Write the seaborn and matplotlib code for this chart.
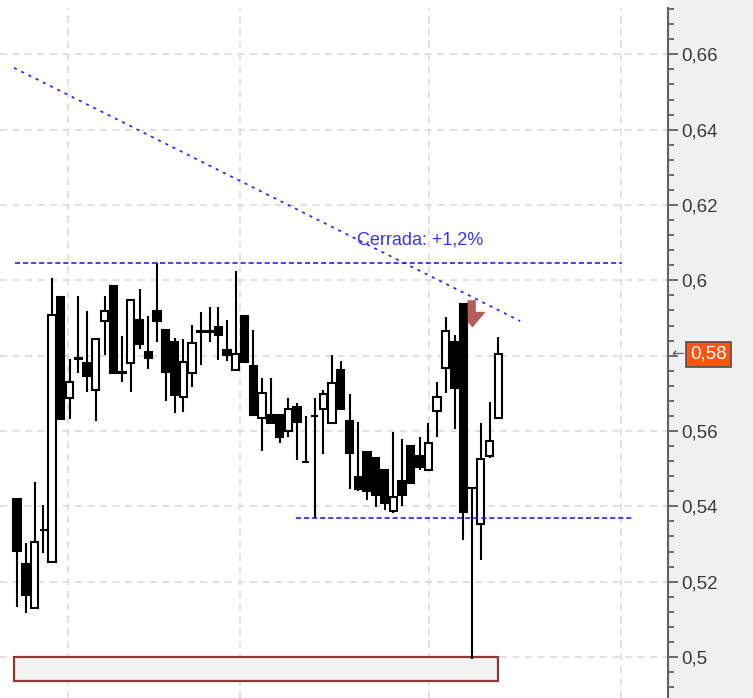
import numpy as np
import pandas as pd
import matplotlib
matplotlib.use('Agg')
import matplotlib.pyplot as plt
import matplotlib.transforms as mtransforms
from matplotlib.path import Path
from matplotlib.patches import Rectangle
from matplotlib.ticker import MultipleLocator, FuncFormatter
import seaborn as sns

# ─────────────────────────────────────────────
# Daily OHLC
# ─────────────────────────────────────────────
opens = [0.5419, 0.5247, 0.5131, 0.5337, 0.5253, 0.5957, 0.5687, 0.5795, 0.5781, 0.5709,
         0.5893, 0.5986, 0.5757, 0.5780, 0.5895, 0.5810, 0.5919, 0.5867, 0.5835, 0.5691,
         0.5753, 0.5866, 0.5866, 0.5877, 0.5814, 0.5762, 0.5905, 0.5772, 0.5634, 0.5642,
         0.5642, 0.5601, 0.5664, 0.5519, 0.5641, 0.5658, 0.5620, 0.5762, 0.5627, 0.5479,
         0.5545, 0.5527, 0.5496, 0.5388, 0.5468, 0.5560, 0.5534, 0.5496, 0.5654, 0.5766,
         0.5837, 0.5937, 0.5450, 0.5353, 0.5534, 0.5634]
highs = [0.5419, 0.5303, 0.5465, 0.5403, 0.6005, 0.5957, 0.5791, 0.5958, 0.5919, 0.5843,
         0.5958, 0.5986, 0.5852, 0.5948, 0.5977, 0.5906, 0.6045, 0.5867, 0.5847, 0.5844,
         0.5881, 0.5915, 0.5930, 0.5930, 0.5895, 0.6025, 0.5905, 0.5868, 0.5740, 0.5740,
         0.5642, 0.5687, 0.5675, 0.5640, 0.5687, 0.5709, 0.5802, 0.5787, 0.5698, 0.5624,
         0.5545, 0.5527, 0.5496, 0.5598, 0.5578, 0.5560, 0.5583, 0.5622, 0.5731, 0.5902,
         0.5855, 0.5937, 0.5450, 0.5622, 0.5678, 0.5849]
lows = [0.5133, 0.5116, 0.5131, 0.5277, 0.5253, 0.5628, 0.5631, 0.5755, 0.5703, 0.5627,
        0.5802, 0.5755, 0.5731, 0.5704, 0.5818, 0.5765, 0.5835, 0.5680, 0.5647, 0.5651,
        0.5718, 0.5775, 0.5837, 0.5788, 0.5786, 0.5762, 0.5784, 0.5642, 0.5548, 0.5620,
        0.5567, 0.5585, 0.5523, 0.5518, 0.5368, 0.5539, 0.5620, 0.5658, 0.5445, 0.5441,
        0.5417, 0.5399, 0.5390, 0.5383, 0.5401, 0.5463, 0.5496, 0.5496, 0.5585, 0.5700,
        0.5604, 0.5311, 0.4995, 0.5258, 0.5527, 0.5634]
closes = [0.5281, 0.5165, 0.5306, 0.5337, 0.5908, 0.5631, 0.5729, 0.5791, 0.5746, 0.5843,
          0.5919, 0.5755, 0.5753, 0.5948, 0.5830, 0.5795, 0.5893, 0.5756, 0.5696, 0.5784,
          0.5833, 0.5864, 0.5864, 0.5855, 0.5802, 0.5804, 0.5784, 0.5642, 0.5702, 0.5620,
          0.5585, 0.5658, 0.5625, 0.5518, 0.5640, 0.5698, 0.5728, 0.5658, 0.5542, 0.5446,
          0.5440, 0.5430, 0.5408, 0.5426, 0.5430, 0.5463, 0.5505, 0.5567, 0.5691, 0.5866,
          0.5713, 0.5386, 0.5450, 0.5525, 0.5573, 0.5804]

# drawing objects (bar index / price)
resistance_x = [-0.23, 69.1]
resistance_y = [0.6045, 0.6045]
support_x = [31.9, 70.3]
support_y = [0.5368, 0.5368]
trend_x = [-0.34, 57.5]
trend_y = [0.6564, 0.5892]
note_text = 'Cerrada: +1,2%'
note_x, note_y = 38.9, 0.6107
signal_x, signal_y = 51.97, 0.5875
box_x = [-0.34, 55.0]
box_y = [0.4936, 0.5000]
grid_x = [5.83, 25.5, 47.1, 69.0]
price_ticks = [0.50, 0.52, 0.54, 0.56, 0.58, 0.60, 0.62, 0.64, 0.66]

df = pd.DataFrame({'open': opens, 'high': highs, 'low': lows, 'close': closes})
df['x'] = np.arange(len(df))
df['up'] = df['close'] >= df['open']
df['bottom'] = df[['open', 'close']].min(axis=1)
df['height'] = (df['close'] - df['open']).abs()

sns.set_theme(style='white')
plt.rcParams['font.family'] = ['Liberation Sans', 'DejaVu Sans']
plt.rcParams['lines.scale_dashes'] = False

W, H = 753, 698
AX_R, AX_TOP = 668, 8
fig = plt.figure(figsize=(W / 100, H / 100), dpi=100)
fig.patch.set_facecolor('white')
fig.add_artist(Rectangle((AX_R / W, 0), 1 - AX_R / W, 1, transform=fig.transFigure,
                         facecolor='#f0f0f0', edgecolor='none', zorder=0))
ax = fig.add_axes([0, 0, AX_R / W, (H - AX_TOP) / H])
ax.set_facecolor('white')

# candles
ax.vlines(df['x'], df['low'], df['high'], color='black', lw=1.5, zorder=3)
ax.bar(df['x'], df['height'], bottom=df['bottom'], width=0.84,
       color=np.where(df['up'], 'white', 'black'), edgecolor='black', linewidth=1.5, zorder=4)

# range box at the bottom
ax.add_patch(Rectangle((box_x[0], box_y[0]), box_x[1] - box_x[0], box_y[1] - box_y[0],
                       facecolor='#f3f3f3', edgecolor='#8b3a3a', lw=1.6, zorder=2))

# levels and trend line
blue = '#2020ff'
sns.lineplot(x=resistance_x, y=resistance_y, ax=ax, color=blue, lw=1.2,
             linestyle=(0, (3.6, 2.2)), zorder=5)
sns.lineplot(x=support_x, y=support_y, ax=ax, color=blue, lw=1.2,
             linestyle=(0, (3.6, 2.2)), zorder=5)
sns.lineplot(x=trend_x, y=trend_y, ax=ax, color=blue, lw=1.2,
             linestyle=(0, (2.2, 3.6)), zorder=5)
ax.text(note_x, note_y, note_text, color='#3535ff', fontsize=13, ha='left', va='center', zorder=6)

# sell signal arrow
arrow = Path([(-5, 27.3), (3.3, 27.3), (3.3, 15.7), (13.3, 15.7), (0, 0), (-5, 5.7), (-5, 27.3)],
             [Path.MOVETO] + [Path.LINETO] * 5 + [Path.CLOSEPOLY])
ax.scatter([signal_x], [signal_y], marker=arrow, s=(2 * 27.3 * 0.72) ** 2,
           color='#a8403c', alpha=0.85, linewidths=0, zorder=5)

# axes
ax.set_xlim(-1.943, 74.40)
ax.set_ylim(0.48912, 0.67229)
ax.set_xticks(grid_x)
ax.set_xticklabels([])
ax.yaxis.tick_right()
ax.set_yticks(price_ticks)
ax.yaxis.set_minor_locator(MultipleLocator(0.004))
last = closes[-1]
ax.yaxis.set_major_formatter(FuncFormatter(
    lambda v, _: '' if abs(v - round(last, 2)) < 1e-6 else f'{v:.2f}'.rstrip('0').replace('.', ',')))
ax.grid(True, which='major', color='#dcdcdc', linestyle=(0, (5, 4)), lw=1.2)
ax.tick_params(axis='x', length=0)
ax.tick_params(axis='y', which='major', direction='out', length=7, width=1.3, color='#606060',
               pad=2.5, labelsize=13.5, labelcolor='#3a3a3a')
ax.tick_params(axis='y', which='minor', direction='out', length=4, width=1.3, color='#606060')
for side in ['left', 'top', 'bottom']:
    ax.spines[side].set_visible(False)
ax.spines['right'].set_color('#606060')
ax.spines['right'].set_linewidth(1.5)

# last price tag
trans = mtransforms.blended_transform_factory(ax.transAxes, ax.transData)
ax.text(1 + 22 / AX_R, last, f'{last:.2f}'.replace('.', ','), transform=trans, color='white',
        fontsize=13.5, ha='left', va='center', clip_on=False,
        bbox=dict(boxstyle='square,pad=0.22', facecolor='#ff5414', edgecolor='#505050', lw=1.2))
ax.text(1 + 3 / AX_R, last, '←', transform=trans, color='#606060', fontsize=11,
        ha='left', va='center', family='DejaVu Sans', clip_on=False)

fig.savefig('out.png', dpi=100, facecolor=fig.get_facecolor())
